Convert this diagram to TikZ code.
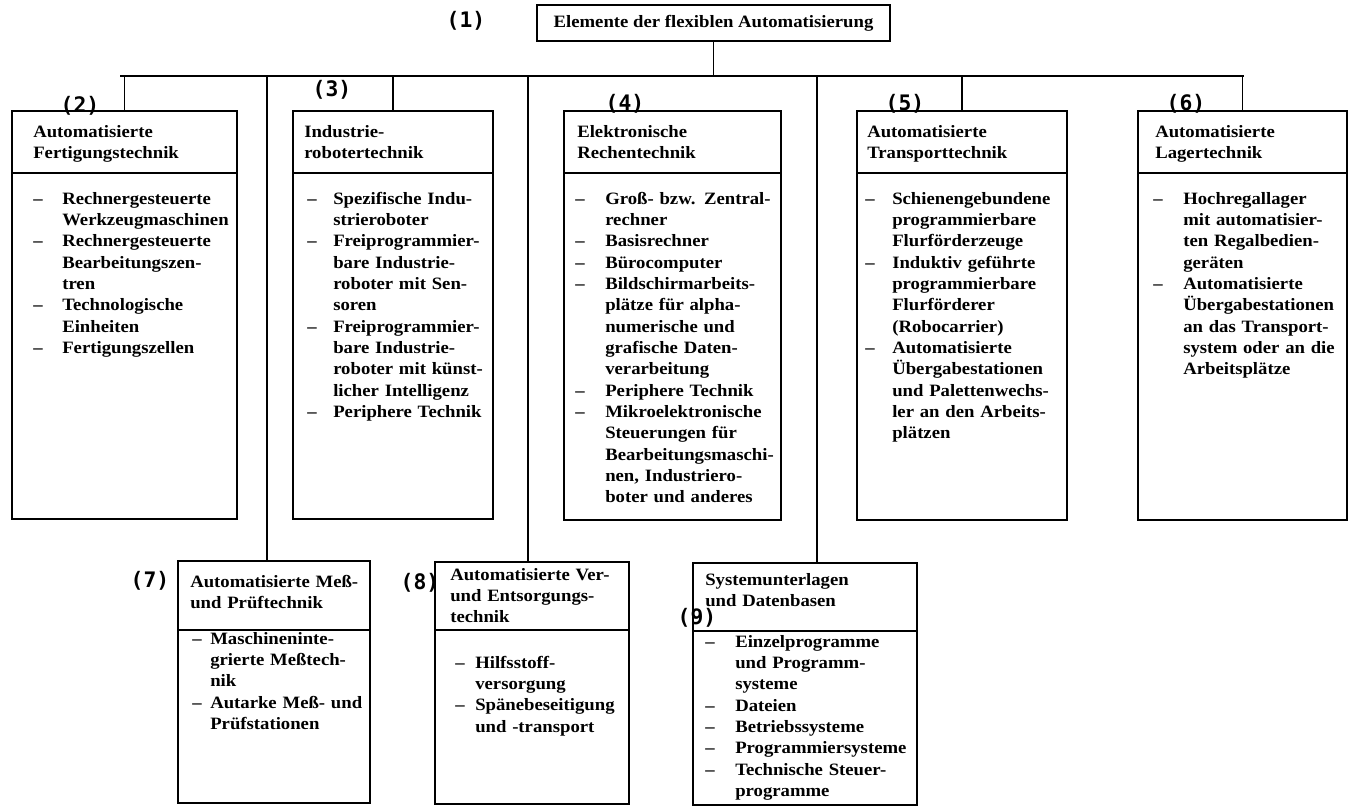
\documentclass[tikz,border=0pt]{standalone}
\usepackage{fontspec}
\setmainfont{Liberation Serif}[FakeStretch=1.08]
\newfontfamily\nrfont{DejaVu Sans Mono}
\usetikzlibrary{fit}

\newcommand{\bodyfont}{\bfseries\fontsize{13}{16}\selectfont}
% one list entry: dash, then hanging lines
\newcommand{\li}[2][21pt]{\noindent\hangindent=#1\hangafter=1\makebox[#1][l]{\strut--}#2\par}
\newcommand{\hd}[1]{\noindent\strut#1\par}

\begin{document}
\begin{tikzpicture}[
        x=0.75pt, y=-0.75pt,
        box/.style={draw, line width=1.3pt, inner sep=0pt},
        txt/.style={anchor=north west, inner sep=0pt, text width=220pt, align=left, font=\bodyfont},
        nr/.style={font=\nrfont\bfseries\fontsize{16}{19}\selectfont, inner sep=0pt},
        link/.style={draw, line width=1.1pt}
    ]
        \useasboundingbox (0,0) rectangle (1349,806);

        % Top element
        \node[box, minimum width=264.75pt, minimum height=27pt, font=\bodyfont] (top) at (713.5,23) {Elemente der flexiblen Automatisierung};
        \node[nr] (n1) at (466,21) {(1)};

        % Upper row: header and list boxes
        \node[box, fit={(12,111) (237,173)}] (b2h) {};
        \node[box, fit={(12,173) (237,519)}] (b2) {};
        \node[box, fit={(293,111) (493,173)}] (b3h) {};
        \node[box, fit={(293,173) (493,519)}] (b3) {};
        \node[box, fit={(564,111) (781,173)}] (b4h) {};
        \node[box, fit={(564,173) (781,520)}] (b4) {};
        \node[box, fit={(857,111) (1067,173)}] (b5h) {};
        \node[box, fit={(857,173) (1067,520)}] (b5) {};
        \node[box, fit={(1138,111) (1347,173)}] (b6h) {};
        \node[box, fit={(1138,173) (1347,520)}] (b6) {};

        % Lower row
        \node[box, fit={(178,561) (370,630)}] (b7h) {};
        \node[box, fit={(178,630) (370,803)}] (b7) {};
        \node[box, fit={(435,562) (629,630)}] (b8h) {};
        \node[box, fit={(435,630) (629,804)}] (b8) {};
        \node[box, fit={(693,563) (917,631)}] (b9h) {};
        \node[box, fit={(693,631) (917,805)}] (b9) {};

        % Numbers
        \node[nr] (n2) at (80,106) {(2)};
        \node[nr] (n3) at (332,90) {(3)};
        \node[nr] (n4) at (625,104) {(4)};
        \node[nr] (n5) at (905,104) {(5)};
        \node[nr] (n6) at (1186,104) {(6)};
        \node[nr] (n7) at (150,581) {(7)};
        \node[nr] (n8) at (420,583) {(8)};
        \node[nr] (n9) at (697,618) {(9)};

        % Headers
        \node[txt] (h2) at (33,122) {\hd{Automatisierte\newline Fertigungstechnik}};
        \node[txt] (h3) at (304,122) {\hd{Industrie-\newline robotertechnik}};
        \node[txt] (h4) at (577,122) {\hd{Elektronische\newline Rechentechnik}};
        \node[txt] (h5) at (867,122) {\hd{Automatisierte\newline Transporttechnik}};
        \node[txt] (h6) at (1155,122) {\hd{Automatisierte\newline Lagertechnik}};
        \node[txt] (h7) at (190,572) {\hd{Automatisierte Meß-\newline und Prüftechnik}};
        \node[txt] (h8) at (450,565) {\hd{Automatisierte Ver-\newline und Entsorgungs-\newline technik}};
        \node[txt] (h9) at (705,570) {\hd{Systemunterlagen\newline und Datenbasen}};

        % Lists
        \node[txt] (l2) at (33,189) {%
            \li[21.75pt]{Rechnergesteuerte\newline Werkzeugmaschinen}
            \li[21.75pt]{Rechnergesteuerte\newline Bearbeitungszen-\newline tren}
            \li[21.75pt]{Technologische\newline Einheiten}
            \li[21.75pt]{Fertigungszellen}};
        \node[txt] (l3) at (307,189) {%
            \li[19.5pt]{Spezifische Indu-\newline strieroboter}
            \li[19.5pt]{Freiprogrammier-\newline bare Industrie-\newline roboter mit Sen-\newline soren}
            \li[19.5pt]{Freiprogrammier-\newline bare Industrie-\newline roboter mit künst-\newline licher Intelligenz}
            \li[19.5pt]{Periphere Technik}};
        \node[txt] (l4) at (575,189) {%
            \li[22.5pt]{Groß- bzw. Zentral-\newline rechner}
            \li[22.5pt]{Basisrechner}
            \li[22.5pt]{Bürocomputer}
            \li[22.5pt]{Bildschirmarbeits-\newline plätze für alpha-\newline numerische und\newline grafische Daten-\newline verarbeitung}
            \li[22.5pt]{Periphere Technik}
            \li[22.5pt]{Mikroelektronische\newline Steuerungen für\newline Bearbeitungsmaschi-\newline nen, Industriero-\newline boter und anderes}};
        \node[txt] (l5) at (865,189) {%
            \li[20.25pt]{Schienengebundene\newline programmierbare\newline Flurförderzeuge}
            \li[20.25pt]{Induktiv geführte\newline programmierbare\newline Flurförderer\newline (Robocarrier)}
            \li[20.25pt]{Automatisierte\newline Übergabestationen\newline und Palettenwechs-\newline ler an den Arbeits-\newline plätzen}};
        \node[txt] (l6) at (1153,189) {%
            \li[22.5pt]{Hochregallager\newline mit automatisier-\newline ten Regalbedien-\newline geräten}
            \li[22.5pt]{Automatisierte\newline Übergabestationen\newline an das Transport-\newline system oder an die\newline Arbeitsplätze}};
        \node[txt] (l7) at (192,629) {%
            \li[13.5pt]{Maschineninte-\newline grierte Meßtech-\newline nik}
            \li[13.5pt]{Autarke Meß- und\newline Prüfstationen}};
        \node[txt] (l8) at (455,653) {%
            \li[15pt]{Hilfsstoff-\newline versorgung}
            \li[15pt]{Spänebeseitigung\newline und -transport}};
        \node[txt] (l9) at (705,632) {%
            \li[22.5pt]{Einzelprogramme\newline und Programm-\newline systeme}
            \li[22.5pt]{Dateien}
            \li[22.5pt]{Betriebssysteme}
            \li[22.5pt]{Programmiersysteme}
            \li[22.5pt]{Technische Steuer-\newline programme}};

        % Connections: bus and branches
        \coordinate (busL) at (120,76);
        \coordinate (busR) at (1244,76);
        \coordinate (t7) at (267,76);
        \coordinate (t8) at (528,76);
        \coordinate (t9) at (817,76);
        \draw[link] (top.south) -- (top.south |- busL);
        \draw[link] (busL) -- (busR);
        \draw[link] (b2h.north) -- (b2h.north |- busL);
        \draw[link] (b3h.north) -- (b3h.north |- busL);
        \draw[link] (b5h.north) -- (b5h.north |- busL);
        \draw[link] (b6h.north) -- (b6h.north |- busL);
        \draw[link] (t7) -- (t7 |- b7h.north);
        \draw[link] (t8) -- (t8 |- b8h.north);
        \draw[link] (t9) -- (t9 |- b9h.north);
    \end{tikzpicture}
\end{document}
